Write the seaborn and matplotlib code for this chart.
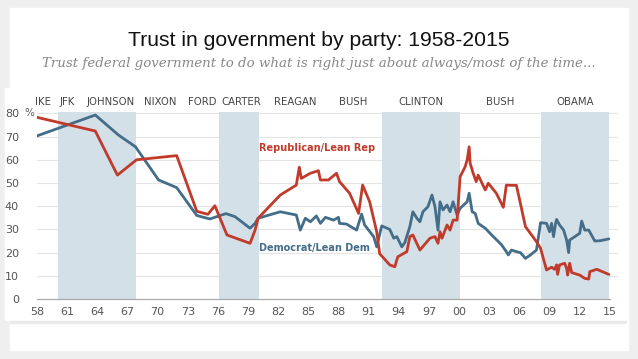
import matplotlib
matplotlib.use('Agg')
import matplotlib.pyplot as plt
import matplotlib.patches as mpatches
import seaborn as sns
import pandas as pd

# data (year, percent)
rep_year = [1958.0, 1963.8, 1966.0, 1967.9, 1971.9, 1973.9, 1975.0, 1975.7, 1976.9, 1979.2,
            1979.7, 1980.0, 1982.2, 1983.8, 1984.1, 1984.3, 1985.2, 1986.0, 1986.2, 1987.0,
            1987.8, 1988.1, 1989.1, 1990.0, 1990.4, 1991.1, 1991.8, 1992.1, 1993.1, 1993.6,
            1993.9, 1994.8, 1995.1, 1995.4, 1996.1, 1997.1, 1997.6, 1997.9, 1998.1, 1998.3,
            1998.8, 1999.1, 1999.4, 1999.8, 2000.1, 2000.6, 2000.8, 2001.0, 2001.1, 2001.4,
            2001.7, 2001.9, 2002.6, 2002.9, 2003.7, 2004.4, 2004.7, 2005.2, 2005.7, 2006.1,
            2006.6, 2007.7, 2008.1, 2008.7, 2009.2, 2009.5, 2009.7, 2009.8, 2010.0, 2010.5,
            2010.7, 2010.8, 2011.0, 2011.2, 2012.0, 2012.5, 2012.9, 2013.0, 2013.7, 2014.9]
rep_val = [78.3, 72.4, 53.4, 60.0, 61.8, 37.8, 36.5, 40.2, 27.6, 24.0,
           29.7, 34.8, 44.8, 49.1, 56.8, 52.0, 54.2, 55.3, 51.3, 51.3,
           54.2, 50.6, 45.6, 36.9, 49.1, 41.9, 29.0, 19.5, 14.7, 13.9,
           18.2, 20.4, 26.9, 27.6, 21.1, 26.2, 26.9, 24.0, 29.0, 26.2,
           31.9, 29.7, 34.0, 34.0, 52.7, 57.0, 59.9, 65.6, 58.5, 54.2,
           50.6, 53.4, 47.0, 49.9, 45.6, 39.5, 49.1, 49.0, 49.0, 41.2,
           31.2, 24.7, 21.9, 12.5, 13.7, 12.8, 14.7, 10.6, 14.7, 15.4,
           13.2, 10.3, 15.4, 11.4, 10.3, 8.9, 8.6, 11.8, 12.8, 10.6]

dem_year = [1958.0, 1963.8, 1966.1, 1967.8, 1970.1, 1971.9, 1973.9, 1975.2, 1976.8, 1977.7,
            1979.2, 1979.7, 1980.0, 1982.2, 1983.8, 1984.2, 1984.7, 1985.2, 1985.8, 1986.2,
            1986.7, 1987.5, 1988.0, 1988.1, 1988.8, 1989.8, 1990.3, 1990.6, 1991.5, 1991.8,
            1992.3, 1993.1, 1993.5, 1993.8, 1994.3, 1994.6, 1995.1, 1995.4, 1995.8, 1996.1,
            1996.4, 1996.9, 1997.3, 1997.6, 1997.9, 1998.1, 1998.4, 1998.8, 1999.1, 1999.4,
            1999.8, 2000.1, 2000.8, 2001.0, 2001.3, 2001.6, 2001.9, 2002.6, 2003.4, 2004.2,
            2004.7, 2004.9, 2005.2, 2005.7, 2006.1, 2006.6, 2007.1, 2007.7, 2008.0, 2008.1,
            2008.7, 2009.0, 2009.2, 2009.4, 2009.6, 2009.7, 2010.0, 2010.4, 2010.7, 2010.9,
            2011.0, 2012.0, 2012.2, 2012.5, 2012.9, 2013.5, 2014.0, 2014.9]
dem_val = [70.3, 79.3, 70.7, 65.6, 51.3, 48.0, 36.0, 34.5, 36.8, 35.5,
           30.5, 32.6, 34.8, 37.6, 36.2, 29.7, 34.8, 33.3, 35.8, 32.6,
           35.2, 34.0, 35.2, 32.6, 32.3, 29.7, 36.6, 31.9, 26.9, 22.5,
           31.5, 30.0, 26.2, 26.9, 22.5, 24.3, 31.2, 37.6, 34.8, 33.3,
           37.6, 39.8, 44.8, 39.8, 29.7, 41.9, 38.4, 40.5, 37.6, 41.9,
           36.2, 39.1, 41.9, 45.6, 37.6, 36.9, 32.6, 30.5, 26.9, 23.5,
           20.4, 19.0, 21.1, 20.4, 20.0, 17.5, 19.0, 21.1, 29.7, 32.9,
           32.6, 29.0, 32.6, 26.9, 32.6, 34.3, 31.9, 29.7, 25.4, 20.0,
           25.4, 28.3, 33.6, 29.7, 29.7, 25.0, 25.1, 25.9]

# democratic administrations (shaded)
dem_terms = [(1960.1, 1967.9), (1976.1, 1980.1), (1992.3, 2000.1), (2008.1, 2014.9)]
presidents = ['IKE', 'JFK', 'JOHNSON', 'NIXON', 'FORD', 'CARTER', 'REAGAN', 'BUSH',
              'CLINTON', 'BUSH', 'OBAMA']
president_pos = [1958.6, 1961.0, 1965.3, 1970.3, 1974.4, 1978.3, 1983.7, 1989.5,
                 1996.2, 2004.1, 2011.5]
x_ticks = list(range(1958, 2016, 3))
y_ticks = [0, 10, 20, 30, 40, 50, 60, 70, 80]

RED = '#c03b2b'
BLUE = '#436d89'
SHADE = '#d4e0e8'

df_rep = pd.DataFrame({'year': rep_year, 'value': rep_val})
df_dem = pd.DataFrame({'year': dem_year, 'value': dem_val})

sns.set_style('white')
plt.rcParams['font.family'] = ['DejaVu Sans']

W, H = 638, 359
fig = plt.figure(figsize=(W / 100, H / 100), dpi=100, facecolor='#efefef')

# slide + chart image backgrounds
for (x0, y0, w, h, c) in [(10, 8, 618, 342, 'white'), (5, 88, 621, 232, 'white'),
                          (10, 321, 616, 2, '#eaeaea')]:
    fig.patches.append(mpatches.Rectangle((x0 / W, 1 - (y0 + h) / H), w / W, h / H,
                                          transform=fig.transFigure, color=c, zorder=-5))

# axes: 1958 at x=37px, y=0 at 299px, 2.32 px per point
x_lo, x_hi = 1958, 2015.8
y_lo, y_hi = 0, 81
px_year, px_val = 10.05, 2.32
ax = fig.add_axes([37 / W, (H - 299) / H, (x_hi - x_lo) * px_year / W, (y_hi - y_lo) * px_val / H])
ax.set_facecolor('white')
ax.set_zorder(2)

for a, b in dem_terms:
    ax.axvspan(a, b, ymin=0, ymax=80.4 / y_hi, color=SHADE, lw=0, zorder=1)

for v in y_ticks[1:]:
    ax.axhline(v, color='#e4e4e4', lw=0.8, zorder=0.5)

sns.lineplot(data=df_dem, x='year', y='value', color=BLUE, lw=2.0, sort=False,
             estimator=None, ax=ax, zorder=3)
sns.lineplot(data=df_rep, x='year', y='value', color=RED, lw=2.0, sort=False,
             estimator=None, ax=ax, zorder=4)

ax.set_xlim(x_lo, x_hi)
ax.set_ylim(y_lo, y_hi)
ax.set_xlabel('')
ax.set_ylabel('')

ax.set_xticks(x_ticks)
ax.set_xticklabels([f'{y % 100:02d}' for y in x_ticks])
ax.set_yticks(y_ticks)
ax.set_yticklabels([str(v) for v in y_ticks])
ax.tick_params(axis='x', length=3, width=0.8, color='#999999', pad=3,
               labelsize=8, labelcolor='#555555')
ax.tick_params(axis='y', length=0, pad=13, labelsize=8, labelcolor='#555555')
ax.text(1956.75, 80, '%', ha='left', va='center', fontsize=7.5, color='#555555')

for side in ['top', 'right', 'left']:
    ax.spines[side].set_visible(False)
ax.spines['bottom'].set_color('#aaaaaa')
ax.spines['bottom'].set_linewidth(0.9)
ax.spines['bottom'].set_bounds(1958, 2015)

for name, pos in zip(presidents, president_pos):
    ax.text(pos, 85.0, name, ha='center', va='center', fontsize=7.3, color='#444444',
            clip_on=False)

ax.text(1980.1, 65, 'Republican/Lean Rep', ha='left', va='center', fontsize=7,
        fontweight='bold', color=RED)
ax.text(1980.1, 21.9, 'Democrat/Lean Dem', ha='left', va='center', fontsize=7,
        fontweight='bold', color=BLUE)

fig.text(319 / W, 1 - 41 / H, 'Trust in government by party: 1958-2015', ha='center',
         va='center', fontsize=15.2, color='#111111', family=['Liberation Sans'])
fig.text(319 / W, 1 - 64 / H,
         'Trust federal government to do what is right just about always/most of the time...',
         ha='center', va='center', fontsize=9.6, color='#888888', style='italic',
         family=['DejaVu Serif'])

fig.savefig('out.png', dpi=100, facecolor=fig.get_facecolor())
